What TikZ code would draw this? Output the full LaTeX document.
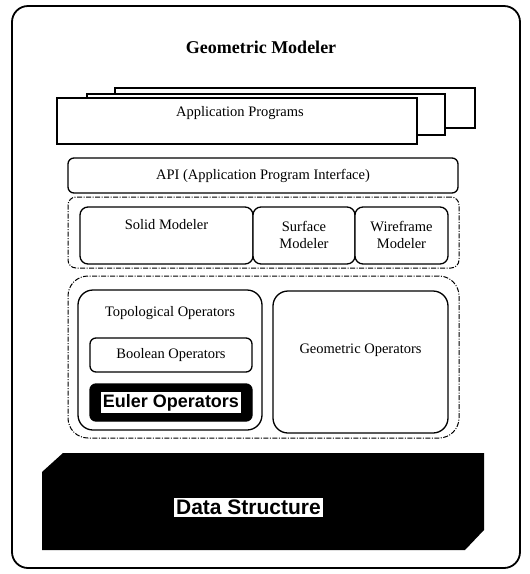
\documentclass[tikz,border=0pt]{standalone}
\usepackage{fontspec}
\setmainfont{Liberation Serif}
\setsansfont{Liberation Sans}
\usepackage{tikz}
\usetikzlibrary{positioning}

\begin{document}
\begin{tikzpicture}[
    x=1pt, y=-1pt,
    font=\fontsize{14.5}{17}\selectfont,
    block/.style={
		rectangle,
		rounded corners=6pt,
		draw=black,
		line width=1.3pt,
		inner sep=0pt,
		fill=white
	},
	appbox/.style={
		rectangle,
		draw=black,
		line width=1.5pt,
		inner sep=0pt,
		fill=white
	},
	group/.style={
		rectangle,
		draw=black,
		line width=1pt,
		dash pattern=on 5pt off 1.5pt on 1pt off 1.5pt,
		inner sep=0pt
	},
	boldtext/.style={
		font=\sffamily\bfseries\fontsize{18}{20}\selectfont,
		fill=white,
		inner sep=2pt
	}
  ]
  \useasboundingbox (0,0) rectangle (530,574);

    % outer frame and title
  \node [block, rounded corners=16pt, line width=1.8pt,
         minimum width=508pt, minimum height=562pt] (modeler) at (266,287) {};
  \node [font=\bfseries\fontsize{18}{20}\selectfont] (title) at (261,47) {Geometric Modeler};

    % stacked application programs
  \node [appbox, minimum width=360pt, minimum height=40pt] (apps3) at (295,108) {};
  \node [appbox, minimum width=358pt, minimum height=41pt] (apps2) at (266,114.5) {};
  \node [appbox, minimum width=360pt, minimum height=46pt] (apps1) at (237,121) {};
  \node (appstext) at (240,113) {Application Programs};

    % API
  \node [block, minimum width=390pt, minimum height=35pt] (api) at (263,175.5)
    {API (Application Program Interface)};

    % modelers
  \node [group, rounded corners=8pt, minimum width=391pt, minimum height=71pt] (modelers) at (263.5,232.5) {};
  \node [block, rounded corners=8pt, minimum width=173pt, minimum height=57pt] (solid) at (166.5,235.5) {};
  \node [block, rounded corners=8pt, minimum width=102pt, minimum height=57pt] (surface) at (304,235.5) {};
  \node [block, rounded corners=8pt, minimum width=93pt, minimum height=57pt] (wire) at (401.5,235.5) {};
  \node (solidtext) at (166.5,225) {Solid Modeler};
  \node [align=center] (surfacetext) at (304,235) {Surface\\Modeler};
  \node [align=center] (wiretext) at (401.5,235) {Wireframe\\Modeler};

    % operators
  \node [group, rounded corners=20pt, minimum width=391pt, minimum height=162pt] (operators) at (263.5,357) {};
  \node [block, rounded corners=15pt, minimum width=184pt, minimum height=140pt] (topo) at (170,360) {};
  \node (topotext) at (170,313) {Topological Operators};
  \node [block, minimum width=162pt, minimum height=34pt] (boolean) at (171,355) {Boolean Operators};
  \node [block, fill=black, minimum width=162pt, minimum height=37pt] (euler) at (171,402.5) {};
  \node [boldtext] (eulertext) at (euler.center) {Euler Operators};
  \node [block, rounded corners=15pt, minimum width=175pt, minimum height=142pt] (geom) at (360.5,362) {};
  \node (geomtext) at (360.5,350) {Geometric Operators};

    % data structure
  \fill [black] (42,472) -- (63,453) -- (484,453) -- (484,530) -- (465,550) -- (42,550) -- cycle;
  \node [boldtext, font=\sffamily\bfseries\fontsize{21}{24}\selectfont] (datatext) at (248.5,507.5) {Data Structure};

\end{tikzpicture}
\end{document}
